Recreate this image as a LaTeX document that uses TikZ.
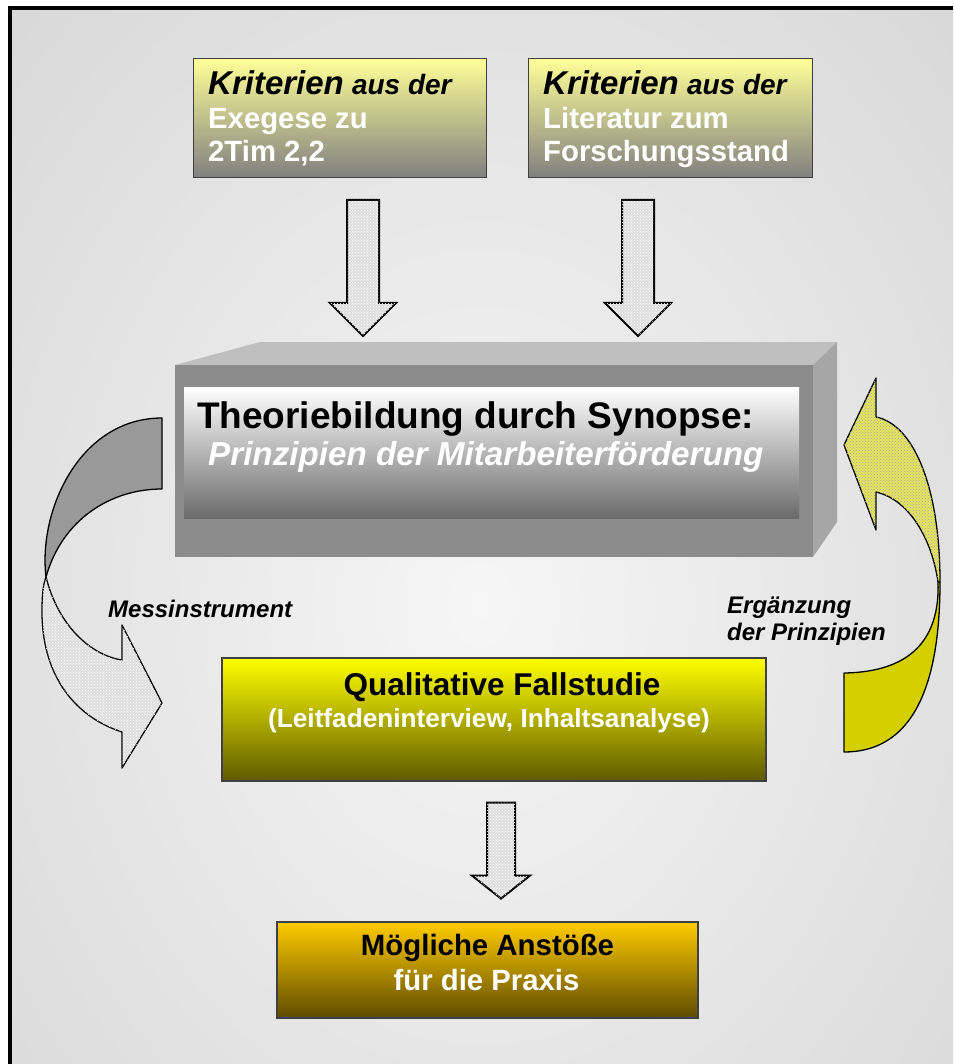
\documentclass[tikz,border=0pt]{standalone}
\usepackage{fontspec}
\setmainfont{Liberation Sans}
\usetikzlibrary{shapes.arrows,patterns}

\definecolor{boxedge}{RGB}{64,64,64}
\definecolor{critop}{RGB}{255,255,153}
\definecolor{critbot}{RGB}{128,128,128}
\definecolor{fallbot}{RGB}{95,90,0}
\definecolor{praxtop}{RGB}{255,204,0}
\definecolor{praxbot}{RGB}{95,75,0}
\definecolor{erglight}{RGB}{228,228,95}
\definecolor{ergsolid}{RGB}{212,208,0}
\definecolor{bglight}{RGB}{246,246,246}
\definecolor{bgdark}{RGB}{204,204,204}

\pgfdeclareradialshading{bgglow}{\pgfpoint{0bp}{0bp}}{color(0bp)=(bglight); color(50bp)=(bgdark); color(75bp)=(bgdark)}

\begin{document}
\begin{tikzpicture}[x=1pt,y=-1pt,
  lbl/.style={inner sep=0, anchor=base west},
  critbox/.style={draw=boxedge, line width=1.2, top color=critop, bottom color=critbot,
    minimum width=#1, minimum height=119, inner sep=0, anchor=north west},
  fallbox/.style={draw=boxedge, line width=1.2, inner sep=0},
  blockdown/.style={single arrow, draw=black, line width=2, inner sep=0, rotate=-90,
    single arrow head indent=0, fill=gray!25,
    postaction={pattern=crosshatch dots, pattern color=white}},
  dotfill/.style={draw=black, line width=1.3, line join=round, fill=gray!25,
    postaction={pattern=crosshatch dots, pattern color=white}}]

\useasboundingbox (0,0) rectangle (953,1064);
\fill[white] (0,0) rectangle (953,1064);
\begin{scope}
  \clip (9.5,8) rectangle (953,1064);
  \shade[shading=bgglow] (9.5,8) rectangle (953,1200);
\end{scope}
\draw[line width=4] (9.5,1064) -- (9.5,8) -- (953,8);

% Kriterien
\node[critbox=293] (exeg) at (193,58) {};
\node[critbox=284] (lit) at (528,58) {};
\node[lbl, align=left, text=white, font=\fontsize{29.3}{33.5}\selectfont\bfseries] (exegtxt) at (208,162)
  {\color{black}{\fontsize{33}{33}\selectfont\itshape Kriterien} {\fontsize{28}{33}\selectfont\itshape aus der}\\Exegese zu\\2Tim 2,2};
\node[lbl, align=left, text=white, font=\fontsize{29.3}{33.5}\selectfont\bfseries] (littxt) at (543,162)
  {\color{black}{\fontsize{33}{33}\selectfont\itshape Kriterien} {\fontsize{28}{33}\selectfont\itshape aus der}\\Literatur zum\\Forschungsstand};

\node[blockdown, minimum height=136, text height=15, text depth=15, single arrow head extend=17] (arrexeg) at (363,260) {};
\node[blockdown, minimum height=136, text height=15, text depth=15, single arrow head extend=17] (arrlit) at (638,260) {};

% Synopse
\fill[black!25] (175,365) -- (260,342) -- (837,342) -- (813,365) -- cycle;
\fill[black!35] (813,365) -- (837,342) -- (837,522) -- (813,557) -- cycle;
\node[fill=black!45, minimum width=638, minimum height=192, inner sep=0, anchor=north west] (syn) at (175,365) {};
\node[top color=white, bottom color=black!58, minimum width=615, minimum height=131, inner sep=0, anchor=north west] (synpanel) at (184,387) {};
\node[lbl, font=\fontsize{37}{40}\selectfont\bfseries] (theo) at (197,428) {Theoriebildung durch Synopse:};
\node[lbl, text=white, font=\fontsize{33.2}{36}\selectfont\bfseries\itshape] (prinz) at (208,465) {Prinzipien der Mitarbeiterförderung};

% Messinstrument
\draw[line width=1.3, line join=round, fill=black!40] (162,418) -- (162,489)
  .. controls (110,489) and (62,520) .. (46,577)
  .. controls (38,510) and (80,418) .. (162,418) -- cycle;
\draw[dotfill] (46,577) .. controls (58,625) and (90,655) .. (122,660)
  -- (122,625) -- (162,703) -- (122,768) -- (122,732)
  .. controls (70,715) and (42,670) .. (42,612)
  .. controls (42,595) and (43,585) .. (46,577) -- cycle;
\node[lbl, font=\fontsize{24}{27}\selectfont\bfseries\itshape] (mess) at (108,617) {Messinstrument};

% Ergaenzung
\draw[line width=1.3, line join=round, fill=ergsolid] (938,582)
  .. controls (940,640) and (910,672) .. (844,673) -- (844,752)
  .. controls (905,752) and (940,700) .. (940,582) -- cycle;
\draw[line width=1.3, line join=round, fill=erglight,
  postaction={pattern=crosshatch dots, pattern color=gray!70}] (876,417)
  .. controls (915,425) and (940,490) .. (940,582) -- (938,582)
  .. controls (932,540) and (910,500) .. (876,492)
  -- (876,530) -- (844,445) -- (876,378) -- cycle;
\node[lbl, align=left, font=\fontsize{24}{27}\selectfont\bfseries\itshape] (erg) at (727,640) {Ergänzung\\der Prinzipien};

% Fallstudie
\node[fallbox, top color=yellow, bottom color=fallbot, minimum width=544, minimum height=123] (fall) at (494,719.5) {};
\node[inner sep=0, anchor=base, font=\fontsize{31.5}{33}\selectfont\bfseries] (falltxt) at (502,695) {Qualitative Fallstudie};
\node[inner sep=0, anchor=base, text=white, font=\fontsize{26.2}{30}\selectfont\bfseries] (fallsub) at (489,727) {(Leitfadeninterview, Inhaltsanalyse)};

\node[blockdown, minimum height=96, text height=13, text depth=13, single arrow head extend=15, single arrow tip angle=103] (arrfall) at (501,845) {};

% Praxis
\node[fallbox, top color=praxtop, bottom color=praxbot, minimum width=421, minimum height=96] (prax) at (487.5,970) {};
\node[inner sep=0, anchor=base, font=\fontsize{29.4}{33}\selectfont\bfseries] (praxtxt) at (487.5,955) {Mögliche Anstöße};
\node[inner sep=0, anchor=base, text=white, font=\fontsize{29.3}{33}\selectfont\bfseries] (praxsub) at (486.5,990) {für die Praxis};
\end{tikzpicture}
\end{document}
